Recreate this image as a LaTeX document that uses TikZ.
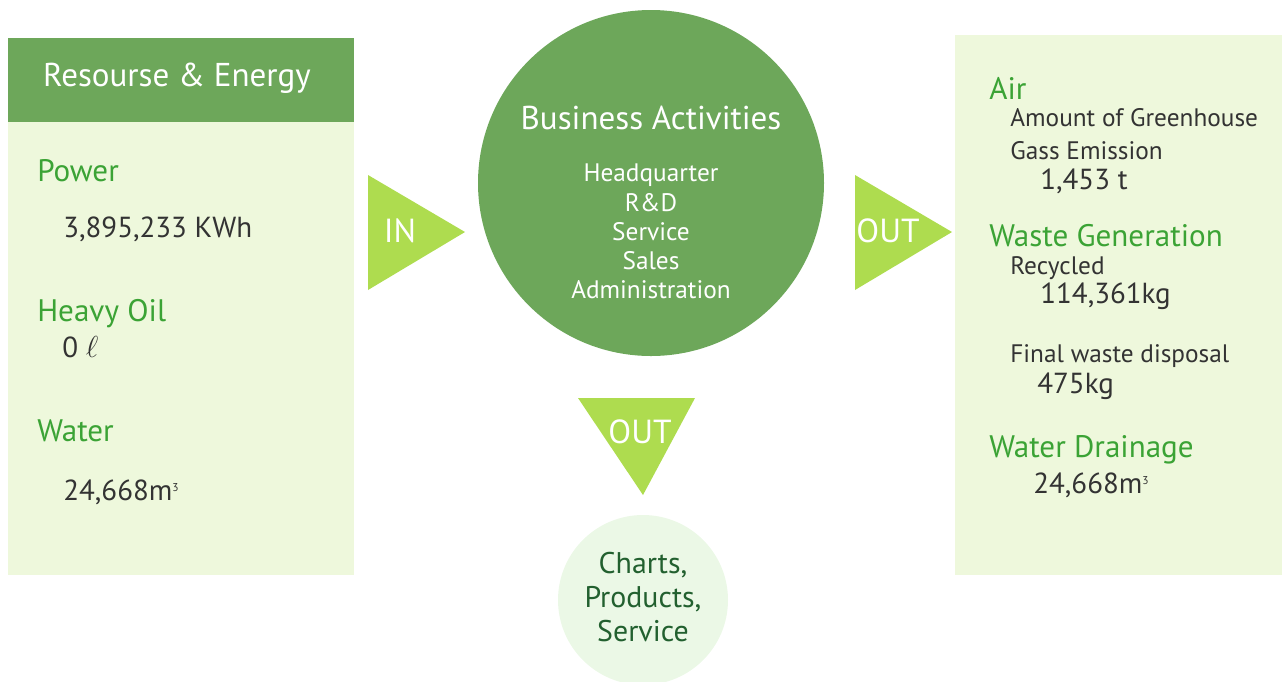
\documentclass[tikz,border=0pt]{standalone}
\usepackage{fontspec}
\setmainfont{PT Sans}
\usetikzlibrary{positioning}

\definecolor{verde oscuro}{HTML}{6DA75A}
\definecolor{verde claro}{HTML}{EEF8DC}
\definecolor{verde flecha}{HTML}{AEDC4F}
\definecolor{verde texto}{HTML}{3BA335}
\definecolor{verde pastel}{HTML}{EBF8E6}
\definecolor{verde profundo}{HTML}{22602F}
\definecolor{gris texto}{HTML}{333333}

\newcommand{\metros}{m\raisebox{0.6ex}{\fontsize{6.5pt}{6.5pt}\selectfont 3}}

\tikzset{
  estilo flujo/.style={
      x=0.02cm, y=-0.02cm,
      titulo/.style={text=white, font={\fontsize{18.8pt}{21pt}\selectfont}, inner sep=0pt},
      rubro/.style={anchor=west, text=verde texto, font={\fontsize{17.7pt}{20pt}\selectfont}, inner sep=0pt},
      valor/.style={anchor=west, text=gris texto, font={\fontsize{16.5pt}{19pt}\selectfont}, inner sep=0pt},
      detalle/.style={anchor=west, text=gris texto, font={\fontsize{14.4pt}{17pt}\selectfont}, inner sep=0pt},
      flecha/.style={fill=verde flecha},
      etiqueta/.style={text=white, font={\fontsize{19pt}{21pt}\selectfont}, inner sep=0pt},
    },
}

\begin{document}
\begin{tikzpicture}[estilo flujo]
    \useasboundingbox (0,0) rectangle (1282,681);

    % panel de entradas
    \fill[verde claro] (8,38) rectangle (354,575);
    \fill[verde oscuro] (8,38) rectangle (354,122);
    \node[titulo] (recursos) at (177,78) {Resourse \& Energy};
    \node[rubro] (power) at (37,171) {Power};
    \node[valor] (power v) at (63,229) {3,895,233 KWh};
    \node[rubro] (oil) at (37,314) {Heavy Oil};
    \node[valor] (oil v) at (62,347) {0 $\ell$};
    \node[rubro] (water) at (37,431) {Water};
    \node[valor] (water v) at (63,492) {24,668\metros};

    % flecha IN
    \fill[flecha] (368,175) -- (465,232) -- (368,290) -- cycle;
    \node[etiqueta] (in) at (400,231) {IN};

    % actividades
    \fill[verde oscuro] (651,183) circle (173);
    \node[titulo] (negocio) at (651,118) {Business Activities};
    \node[detalle, anchor=center, text=white] (hq) at (651,175) {Headquarter};
    \node[detalle, anchor=center, text=white] (rd) at (651,203) {R\&D};
    \node[detalle, anchor=center, text=white] (serv) at (651,232) {Service};
    \node[detalle, anchor=center, text=white] (sales) at (651,261) {Sales};
    \node[detalle, anchor=center, text=white] (admin) at (651,290) {Administration};

    % flecha OUT derecha
    \fill[flecha] (855,175) -- (952,232) -- (855,290) -- cycle;
    \node[etiqueta] (out der) at (888,231) {OUT};

    % flecha OUT abajo
    \fill[flecha] (578,398) -- (695,398) -- (643,495) -- cycle;
    \node[etiqueta] (out aba) at (640,432) {OUT};

    % productos
    \fill[verde pastel] (643,600) circle (85);
    \node[align=center, text=verde profundo, font={\fontsize{17pt}{19.5pt}\selectfont}] (productos) at (643,597) {Charts,\\Products,\\Service};

    % panel de salidas
    \fill[verde claro] (955,35) rectangle (1282,575);
    \node[rubro] (air) at (989,88) {Air};
    \node[detalle] (gei) at (1010,118) {Amount of Greenhouse};
    \node[detalle] (gei b) at (1010,151) {Gass Emission};
    \node[valor] (gei v) at (1040,181) {1,453 t};
    \node[rubro] (waste) at (989,236) {Waste Generation};
    \node[detalle] (rec) at (1010,268) {Recycled};
    \node[valor] (rec v) at (1040,296) {114,361kg};
    \node[detalle] (final) at (1010,356) {Final waste disposal};
    \node[valor] (final v) at (1037,386) {475kg};
    \node[rubro] (drain) at (989,450) {Water Drainage};
    \node[valor] (drain v) at (1033,485) {24,668\metros};
\end{tikzpicture}
\end{document}
